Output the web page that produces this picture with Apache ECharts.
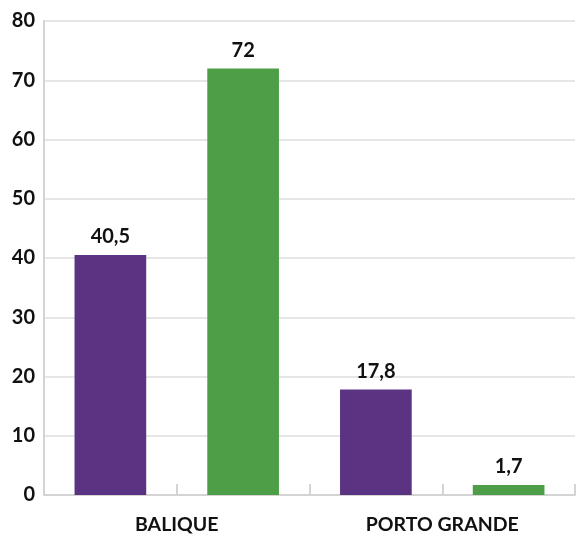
<!DOCTYPE html>
<head>
    <meta charset="utf-8">
    <title>ECharts</title>
    <script type="text/javascript" src="https://cdn.jsdelivr.net/npm/echarts@6/dist/echarts.min.js"></script>
    <style media="screen">
      html,body{ height:100%; margin:0; padding:0; background:#fff; }
    </style>
</head>
<body>
    <div id="main" style="width:576px;height:535px"></div>
    <script>
    // data
    var groups = ['BALIQUE', 'PORTO GRANDE'];
    var slots = ['BALIQUE-1', 'BALIQUE-2', 'PORTO GRANDE-1', 'PORTO GRANDE-2'];
    var values = [40.5, 72, 17.8, 1.7];
    var colors = ['#5a3382', '#4e9e48', '#5a3382', '#4e9e48'];
    var yTicks = [0, 10, 20, 30, 40, 50, 60, 70, 80];

    var font = 'Lato';
    var barData = [];
    for (var i = 0; i < values.length; i++) {
        barData.push({ value: values[i], itemStyle: { color: colors[i] } });
    }

    var option = {
        animation: false,
        grid: { left: 44, right: 1, top: 21, bottom: 40, containLabel: false, outerBoundsMode: 'none' },
        xAxis: [{
            type: 'category', data: slots, position: 'bottom',
            axisLine: { show: true, lineStyle: { color: '#d4d4d4', width: 2 } },
            axisTick: { show: true, interval: 0, inside: true, length: 11, lineStyle: { color: '#d4d4d4', width: 2 } },
            axisLabel: { show: false, interval: 0 },
            splitLine: { show: false }
        }, {
            type: 'category', data: groups, position: 'bottom', offset: 0,
            axisLine: { show: false }, axisTick: { show: false },
            axisLabel: { show: true, interval: 0, margin: 20, color: '#111', fontFamily: font, fontWeight: 'bold', fontSize: 19.5 },
            splitLine: { show: false }
        }],
        yAxis: {
            type: 'value', min: yTicks[0], max: yTicks[yTicks.length - 1], interval: 10,
            axisLine: { show: true, lineStyle: { color: '#d4d4d4', width: 2 } },
            axisTick: { show: false },
            axisLabel: { margin: 9, color: '#111', fontFamily: font, fontWeight: 'bold', fontSize: 20 },
            splitLine: { show: true, lineStyle: { color: '#e6e6e6', width: 2 } }
        },
        series: [{
            type: 'bar', xAxisIndex: 0, data: barData, barWidth: '54%',
            label: {
                show: true, position: 'top', distance: 8,
                color: '#111', fontFamily: font, fontWeight: 'bold', fontSize: 20,
                formatter: function (p) { return String(p.value).replace('.', ','); }
            }
        }]
    };
    var myChart = echarts.init(document.getElementById('main'));
    myChart.setOption(option);
    window.onresize = function () { myChart.resize(); };
    </script>
</body>
